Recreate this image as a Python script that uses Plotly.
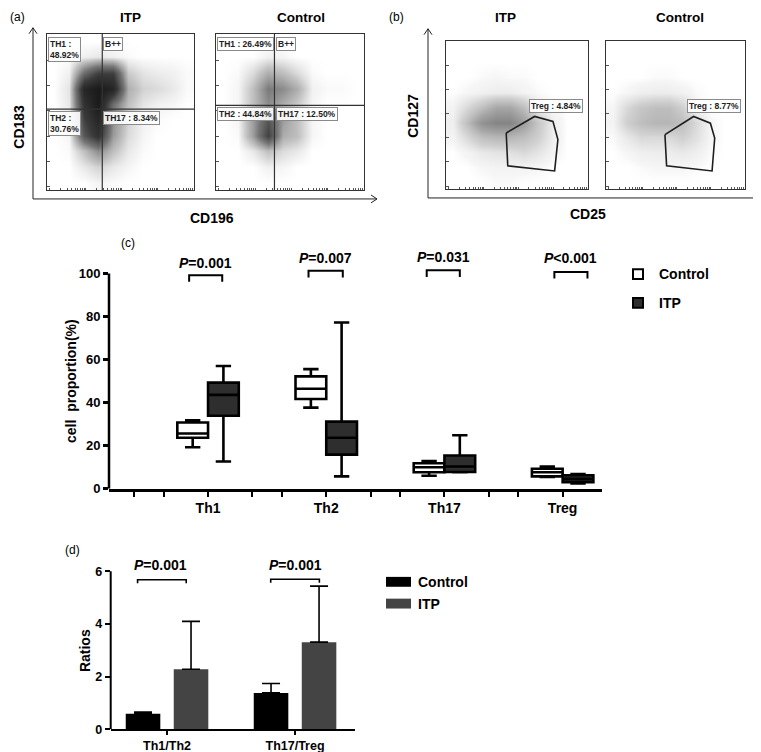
import math
import plotly.graph_objects as go

W, H = 761, 752
def PX(x): return x / W
def PY(y): return 1 - y / H

FONT = "Arial, Liberation Sans, Helvetica, sans-serif"
NARROW = "Liberation Sans Narrow, Arial Narrow, Liberation Sans, sans-serif"

# ---------------- data : panel (c) box plot ----------------
box_categories = ["Th1", "Th2", "Th17", "Treg"]
ctrl_low = [19.3, 37.7, 6.1, 5.5]
ctrl_q1 = [23.7, 41.7, 7.7, 5.8]
ctrl_median = [25.7, 46.5, 10.0, 7.7]
ctrl_q3 = [30.8, 52.2, 11.9, 9.3]
ctrl_high = [31.8, 55.6, 12.9, 10.4]
itp_low = [12.7, 5.8, 7.7, 2.5]
itp_q1 = [33.9, 15.9, 7.8, 3.1]
itp_median = [43.6, 23.7, 10.4, 4.6]
itp_q3 = [49.3, 31.2, 15.5, 6.3]
itp_high = [57.0, 77.2, 24.9, 6.9]
box_pvalues = ["=0.001", "=0.007", "=0.031", "<0.001"]
box_bracket_left = [-0.16, -0.15, -0.15, -0.07]
box_bracket_right = [0.12, 0.14, 0.13, 0.21]
box_bracket_top = [99.2, 101.2, 101.5, 100.7]
box_ptext_y = [104.8, 107.2, 107.6, 107.2]

# ---------------- data : panel (d) bar chart ----------------
ratio_categories = ["Th1/Th2", "Th17/Treg"]
ratio_ctrl = [0.59, 1.38]
ratio_ctrl_err = [0.06, 0.36]
ratio_itp = [2.28, 3.31]
ratio_itp_err = [1.82, 2.13]
ratio_pvalues = ["=0.001", "=0.001"]
ratio_bracket_left = [-0.23, -0.19]
ratio_bracket_right = [0.15, 0.19]
ratio_bracket_top = [5.68, 5.70]
ratio_ptext_x = [-0.05, 0.0]
ratio_ptext_y = [6.24, 6.24]

# ---------------- data : flow cytometry panels (density read per 10x10 cell, top row first) ----------------
flow_cells = [5, 15, 25, 35, 45, 55, 65, 75, 85, 95]
dens_a_itp = [
    [0, 0, 0, 0, 0, 0, 0, 0, 0, 0],
    [0, 0, 0.3, 0.5, 0.3, 0.1, 0, 0, 0, 0],
    [0, 0.3, 4, 6, 6, 1.2, 0.6, 0.4, 0.3, 0.1],
    [0, 0.6, 8, 9, 8, 2, 1, 0.8, 0.5, 0.1],
    [0, 0.5, 7, 9, 4, 1.5, 0.6, 0.3, 0.2, 0],
    [0, 0.4, 6, 8, 3, 1, 0.3, 0.1, 0, 0],
    [0, 0.2, 5, 7, 2.5, 0.8, 0.2, 0, 0, 0],
    [0, 0.1, 1.5, 3, 1.5, 0.5, 0.1, 0, 0, 0],
    [0, 0, 0.5, 1, 0.5, 0.2, 0, 0, 0, 0],
    [0, 0, 0, 0.2, 0.1, 0, 0, 0, 0, 0],
]
dens_a_ctrl = [
    [0, 0, 0, 0, 0, 0, 0, 0, 0, 0],
    [0, 0, 0, 0.3, 0.2, 0, 0, 0, 0, 0],
    [0, 0.1, 0.8, 2, 1.5, 0.8, 0.1, 0, 0, 0],
    [0, 0.2, 1.5, 3.5, 3, 2, 0.3, 0.1, 0.1, 0],
    [0, 0.2, 1.5, 3, 2, 1.2, 0.2, 0, 0, 0],
    [0, 0.2, 2.5, 5, 2.5, 1.5, 0.2, 0, 0, 0],
    [0, 0.1, 2.5, 6, 2, 1.5, 0.2, 0, 0, 0],
    [0, 0, 0.5, 1.5, 0.8, 0.5, 0, 0, 0, 0],
    [0, 0, 0, 0.3, 0.2, 0, 0, 0, 0, 0],
    [0, 0, 0, 0, 0, 0, 0, 0, 0, 0],
]
dens_b_itp = [
    [0, 0, 0, 0, 0, 0, 0, 0, 0, 0],
    [0, 0, 0, 0, 0, 0, 0, 0, 0, 0],
    [0, 0, 0.1, 0.2, 0.1, 0.1, 0, 0, 0, 0],
    [0, 0.2, 0.4, 0.6, 0.6, 0.3, 0.1, 0, 0, 0],
    [0.3, 1.5, 3, 4.5, 4.5, 3, 0.5, 0.1, 0, 0],
    [0.5, 3, 6, 7, 7, 5, 2.5, 0.5, 0, 0],
    [0.3, 1.5, 3, 3.5, 3.5, 3, 2, 0.5, 0, 0],
    [0, 0.3, 0.8, 1, 1.2, 1.5, 1, 0.3, 0, 0],
    [0, 0, 0.2, 0.3, 0.3, 0.3, 0.2, 0, 0, 0],
    [0, 0, 0, 0.1, 0.1, 0, 0, 0, 0, 0],
]
dens_b_ctrl = [
    [0, 0, 0, 0, 0, 0, 0, 0, 0, 0],
    [0, 0, 0, 0, 0, 0, 0, 0, 0, 0],
    [0, 0, 0, 0.1, 0.1, 0, 0, 0, 0, 0],
    [0, 0.2, 0.5, 0.6, 0.6, 0.4, 0.1, 0, 0, 0],
    [0.2, 1.5, 2.5, 3, 3, 2, 0.3, 0, 0, 0],
    [0.3, 2, 3, 3.5, 3.5, 3, 1.5, 0.2, 0, 0],
    [0.1, 0.8, 1.5, 1.5, 1.5, 2, 1.2, 0.2, 0, 0],
    [0, 0.2, 0.5, 0.6, 0.6, 0.8, 0.5, 0.1, 0, 0],
    [0, 0, 0.1, 0.2, 0.2, 0.2, 0.1, 0, 0, 0],
    [0, 0, 0, 0, 0, 0, 0, 0, 0, 0],
]
quad_itp = (37.6, 51.8)
quad_ctrl = (39.5, 54.1)
quad_labels_itp = [("TH1 :<br>48.92%", 1.0, 98.0), ("B++", 38.2, 98.0),
                   ("TH2 :<br>30.76%", 1.0, 50.8), ("TH17 : 8.34%", 38.2, 50.8)]
quad_labels_ctrl = [("TH1 : 26.49%", 0.8, 98.0), ("B++", 40.2, 98.0),
                    ("TH2 : 44.84%", 0.8, 53.3), ("TH17 : 12.50%", 40.2, 53.3)]
gate_itp_x = [42.4, 62.4, 75.3, 78.8, 76.5, 43.5, 42.4]
gate_itp_y = [37.8, 48.9, 45.6, 33.3, 12.2, 15.6, 37.8]
gate_ctrl_x = [42.4, 63.0, 75.1, 78.2, 76.3, 43.6, 42.4]
gate_ctrl_y = [36.7, 48.9, 44.4, 34.4, 12.2, 15.6, 36.7]
treg_labels = ["Treg : 4.84%", "Treg : 8.77%"]
treg_label_pos = (77.4, 56.0)

fig = go.Figure()

# ---------------- flow panels ----------------
scale_a = [[0, "#ffffff"], [0.02, "#f6f6f6"], [0.15, "#c4c4c4"], [0.4, "#777777"],
           [0.7, "#3a3a3a"], [1, "#1a1a1a"]]
scale_b = [[0, "#ffffff"], [0.02, "#f6f6f6"], [0.2, "#d2d2d2"], [0.5, "#a6a6a6"], [1, "#6a6a6a"]]
flows = [
    (dens_a_itp, scale_a, "x", "y"),
    (dens_a_ctrl, scale_a, "x2", "y2"),
    (dens_b_itp, scale_b, "x3", "y3"),
    (dens_b_ctrl, scale_b, "x4", "y4"),
]
for dens, cs, xa, ya in flows:
    fig.add_trace(go.Heatmap(z=dens[::-1], x=flow_cells, y=flow_cells, zsmooth="best",
                             colorscale=cs, zmin=0, zmax=9, showscale=False,
                             hoverinfo="skip", xaxis=xa, yaxis=ya))

for gx, gy, xa, ya in [(gate_itp_x, gate_itp_y, "x3", "y3"), (gate_ctrl_x, gate_ctrl_y, "x4", "y4")]:
    fig.add_trace(go.Scatter(x=gx, y=gy, mode="lines", line=dict(color="#1e1e1e", width=1.6),
                             hoverinfo="skip", showlegend=False, xaxis=xa, yaxis=ya))

# ---------------- panel (c) boxes ----------------
pos = list(range(len(box_categories)))
fig.add_trace(go.Box(x=pos, q1=ctrl_q1, median=ctrl_median, q3=ctrl_q3,
                     lowerfence=ctrl_low, upperfence=ctrl_high, name="Control",
                     fillcolor="white", line=dict(color="black", width=2.6),
                     whiskerwidth=0.5, boxpoints=False, hoverinfo="skip",
                     showlegend=False, xaxis="x5", yaxis="y5"))
fig.add_trace(go.Box(x=pos, q1=itp_q1, median=itp_median, q3=itp_q3,
                     lowerfence=itp_low, upperfence=itp_high, name="ITP",
                     fillcolor="#2e2e2e", line=dict(color="black", width=2.6),
                     whiskerwidth=0.5, boxpoints=False, hoverinfo="skip",
                     showlegend=False, xaxis="x5", yaxis="y5"))

# ---------------- panel (d) bars ----------------
rpos = list(range(len(ratio_categories)))
fig.add_trace(go.Bar(x=rpos, y=ratio_ctrl, name="Control", marker=dict(color="black", line=dict(width=0)),
                     error_y=dict(type="data", symmetric=False, array=ratio_ctrl_err,
                                  arrayminus=[0] * len(rpos), color="black", thickness=1.6, width=9),
                     hoverinfo="skip", showlegend=False, xaxis="x6", yaxis="y6"))
fig.add_trace(go.Bar(x=rpos, y=ratio_itp, name="ITP", marker=dict(color="#444444", line=dict(width=0)),
                     error_y=dict(type="data", symmetric=False, array=ratio_itp_err,
                                  arrayminus=[0] * len(rpos), color="black", thickness=1.6, width=9),
                     hoverinfo="skip", showlegend=False, xaxis="x6", yaxis="y6"))

shapes = []
annotations = []

# flow axes
def flow_axes(xdom, ydom, n):
    sx = "" if n == 1 else str(n)
    # log-like tick pattern along bottom edge (4 decades)
    xt = []
    for d in range(4):
        for k in range(1, 10):
            xt.append(2 + d * 24.5 + 24.5 * math.log10(k))
    xa = dict(domain=[PX(xdom[0]), PX(xdom[1])], range=[0, 100], showgrid=False, zeroline=False,
              showline=True, linecolor="#333333", linewidth=1, mirror=True,
              ticks="inside", ticklen=2, tickwidth=1, tickcolor="#555555",
              tickvals=xt, showticklabels=False, anchor="y" + sx, fixedrange=True)
    ya = dict(domain=[PY(ydom[1]), PY(ydom[0])], range=[0, 100], showgrid=False, zeroline=False,
              showline=True, linecolor="#333333", linewidth=1, mirror=True,
              ticks="inside", ticklen=3, tickwidth=1, tickcolor="#555555",
              tickvals=[2, 18.5, 34.5, 51, 67, 83], showticklabels=False, anchor="x" + sx,
              fixedrange=True)
    return xa, ya

layout_axes = {}
for n, (xd, yd) in enumerate([((39, 186), (26, 184)), ((208, 356), (26, 184)),
                              ((438, 580), (33, 183)), ((598, 737), (33, 183))], start=1):
    xa, ya = flow_axes(xd, yd, n)
    key = "" if n == 1 else str(n)
    layout_axes["xaxis" + key] = xa
    layout_axes["yaxis" + key] = ya

# quadrant lines
for (qx, qy), xr, yr in [(quad_itp, "x", "y"), (quad_ctrl, "x2", "y2")]:
    shapes.append(dict(type="line", xref=xr, yref=yr, x0=qx, x1=qx, y0=0, y1=100,
                       line=dict(color="#333333", width=1.2)))
    shapes.append(dict(type="line", xref=xr, yref=yr, x0=0, x1=100, y0=qy, y1=qy,
                       line=dict(color="#333333", width=1.2)))

LABEL_FONT = dict(family=NARROW, size=8.5, color="#222222")
for labels, xr, yr in [(quad_labels_itp, "x", "y"), (quad_labels_ctrl, "x2", "y2")]:
    for txt, lx, ly in labels:
        annotations.append(dict(text="<b>" + txt + "</b>", x=lx, y=ly, xref=xr, yref=yr,
                                xanchor="left", yanchor="top", align="left", showarrow=False,
                                font=LABEL_FONT,
                                bgcolor="rgba(255,255,255,0.9)", bordercolor="#8a8a8a",
                                borderwidth=1, borderpad=1))
for txt, xr, yr in [(treg_labels[0], "x3", "y3"), (treg_labels[1], "x4", "y4")]:
    annotations.append(dict(text="<b>" + txt + "</b>", x=treg_label_pos[0], y=treg_label_pos[1],
                            xref=xr, yref=yr, xanchor="center", yanchor="middle", showarrow=False,
                            font=LABEL_FONT,
                            bgcolor="rgba(255,255,255,0.9)", bordercolor="#8a8a8a",
                            borderwidth=1, borderpad=1))

# arrows for flow axes
def arrow_axes(x0, y0, ytop, xright):
    s = []
    s.append(dict(type="line", xref="paper", yref="paper", x0=PX(x0), x1=PX(x0), y0=PY(y0), y1=PY(ytop),
                  line=dict(color="#222222", width=1)))
    s.append(dict(type="line", xref="paper", yref="paper", x0=PX(x0), x1=PX(xright), y0=PY(y0), y1=PY(y0),
                  line=dict(color="#222222", width=1)))
    for dx in (-4, 4):
        s.append(dict(type="line", xref="paper", yref="paper", x0=PX(x0), x1=PX(x0 + dx),
                      y0=PY(ytop), y1=PY(ytop + 6), line=dict(color="#222222", width=1)))
    for dy in (-4, 4):
        s.append(dict(type="line", xref="paper", yref="paper", x0=PX(xright), x1=PX(xright - 6),
                      y0=PY(y0), y1=PY(y0 + dy), line=dict(color="#222222", width=1)))
    return s

shapes += arrow_axes(25, 193, 20, 369)
shapes += arrow_axes(420, 192, 21, 758)

def ptext(text, x, y, size=14, bold=True, angle=0, anchor="center", family=FONT, color="black"):
    t = "<b>" + text + "</b>" if bold else text
    return dict(text=t, x=PX(x), y=PY(y), xref="paper", yref="paper", showarrow=False,
                xanchor=anchor, yanchor="middle", textangle=angle,
                font=dict(family=family, size=size, color=color))

annotations += [
    ptext("(a)", 9, 9, size=12, bold=False),
    ptext("ITP", 122, 10, size=13.5),
    ptext("Control", 293, 10, size=13.5),
    ptext("CD183", 11, 120, size=14, angle=-90),
    ptext("CD196", 204, 212, size=14),
    ptext("(b)", 388, 9, size=12, bold=False),
    ptext("ITP", 497, 10, size=13.5),
    ptext("Control", 672, 10, size=13.5),
    ptext("CD127", 405, 109, size=14, angle=-90),
    ptext("CD25", 580, 208, size=14),
    ptext("(c)", 120, 238, size=12, bold=False),
    ptext("cell  proportion(%)", 63, 377, size=14, angle=-90),
    ptext("(d)", 64, 548, size=12, bold=False),
    ptext("Ratios", 77, 650, size=14, angle=-90),
]

# ---------------- panel (c) axes ----------------
c_ticks = [-0.625, -0.375, 0, 0.375, 0.625, 1, 1.375, 1.625, 2, 2.375, 2.625, 3]
c_text = ["" if abs(v - round(v)) > 1e-9 else box_categories[int(round(v))] for v in c_ticks]
layout_axes["xaxis5"] = dict(domain=[PX(101), PX(594)], range=[-0.838, 3.333], anchor="y5",
                             showgrid=False, zeroline=False, showline=True, linecolor="black",
                             linewidth=2.5, ticks="outside", ticklen=5, tickwidth=2, tickcolor="black",
                             tickvals=c_ticks, ticktext=c_text, fixedrange=True,
                             tickfont=dict(family=FONT, size=14, color="black", weight="bold"))
c_top = 486 - 112 * 2.177
layout_axes["yaxis5"] = dict(domain=[PY(486), PY(c_top)], range=[0, 112], anchor="x5",
                             showgrid=False, zeroline=False, showline=False,
                             ticks="outside", ticklen=5, tickwidth=2.5, tickcolor="black",
                             tickvals=[0, 20, 40, 60, 80, 100], fixedrange=True,
                             tickfont=dict(family=FONT, size=13, color="black", weight="bold"))
shapes.append(dict(type="line", xref="x5 domain", yref="y5", x0=0, x1=0, y0=0, y1=100,
                   line=dict(color="black", width=2.5)))

for i, p in enumerate(box_pvalues):
    l, r, t = i + box_bracket_left[i], i + box_bracket_right[i], box_bracket_top[i]
    shapes.append(dict(type="path", xref="x5", yref="y5",
                       path=f"M {l},{t - 3.1} L {l},{t} L {r},{t} L {r},{t - 3.1}",
                       line=dict(color="black", width=2)))
    annotations.append(dict(text="<b><i>P</i>" + p + "</b>", x=(l + r) / 2, y=box_ptext_y[i],
                            xref="x5", yref="y5", showarrow=False, xanchor="center", yanchor="middle",
                            font=dict(family=FONT, size=14, color="black")))

# legend (c)
shapes.append(dict(type="rect", xref="paper", yref="paper", x0=PX(625), x1=PX(635), y0=PY(274), y1=PY(264),
                   line=dict(color="black", width=2), fillcolor="white"))
shapes.append(dict(type="rect", xref="paper", yref="paper", x0=PX(625), x1=PX(635), y0=PY(303), y1=PY(293),
                   line=dict(color="black", width=2), fillcolor="#2e2e2e"))
annotations.append(ptext("Control", 649, 269, anchor="left"))
annotations.append(ptext("ITP", 649, 298, anchor="left"))

# ---------------- panel (d) axes ----------------
d_unit = 26.6
d_top = 729 - 6.6 * d_unit
layout_axes["xaxis6"] = dict(domain=[PX(102.7), PX(346.7)], range=[-0.44, 1.466], anchor="y6",
                             showgrid=False, zeroline=False, showline=True, linecolor="black",
                             linewidth=2, ticks="outside", ticklen=4, tickwidth=2, tickcolor="black",
                             tickvals=rpos, ticktext=ratio_categories, fixedrange=True,
                             tickfont=dict(family=FONT, size=12.5, color="black", weight="bold"))
layout_axes["yaxis6"] = dict(domain=[PY(729), PY(d_top)], range=[0, 6.6], anchor="x6",
                             showgrid=False, zeroline=False, showline=False,
                             ticks="outside", ticklen=5, tickwidth=2, tickcolor="black",
                             tickvals=[0, 2, 4, 6], fixedrange=True,
                             tickfont=dict(family=FONT, size=12.5, color="black", weight="bold"))
shapes.append(dict(type="line", xref="x6 domain", yref="y6", x0=0, x1=0, y0=0, y1=6,
                   line=dict(color="black", width=2)))

for i, p in enumerate(ratio_pvalues):
    l, r, t = i + ratio_bracket_left[i], i + ratio_bracket_right[i], ratio_bracket_top[i]
    shapes.append(dict(type="path", xref="x6", yref="y6",
                       path=f"M {l},{t - 0.13} L {l},{t} L {r},{t} L {r},{t - 0.13}",
                       line=dict(color="black", width=1.6)))
    annotations.append(dict(text="<b><i>P</i>" + p + "</b>", x=i + ratio_ptext_x[i], y=ratio_ptext_y[i],
                            xref="x6", yref="y6", showarrow=False, xanchor="center", yanchor="middle",
                            font=dict(family=FONT, size=14, color="black")))

# legend (d)
shapes.append(dict(type="rect", xref="paper", yref="paper", x0=PX(378), x1=PX(403), y0=PY(585), y1=PY(575),
                   line=dict(width=0), fillcolor="black"))
shapes.append(dict(type="rect", xref="paper", yref="paper", x0=PX(378), x1=PX(403), y0=PY(607), y1=PY(597),
                   line=dict(width=0), fillcolor="#444444"))
annotations.append(ptext("Control", 408, 580, anchor="left"))
annotations.append(ptext("ITP", 408, 602, anchor="left"))

fig.update_layout(
    width=W, height=H, margin=dict(l=0, r=0, t=0, b=0), autosize=False,
    paper_bgcolor="white", plot_bgcolor="rgba(0,0,0,0)",
    showlegend=False, boxmode="group", boxgap=0.48, boxgroupgap=0,
    barmode="group", bargap=0.25, bargroupgap=0.28,
    shapes=shapes, annotations=annotations,
    font=dict(family=FONT, color="black"),
    **layout_axes,
)

fig.write_html("out.html", config={"displayModeBar": False})
